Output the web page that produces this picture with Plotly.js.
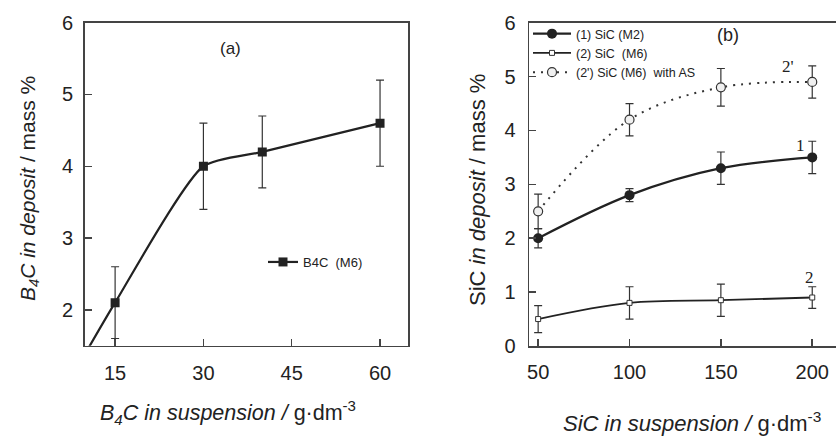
<!DOCTYPE html>
<html>
<head>
<meta charset="utf-8">
<script src="https://cdn.plot.ly/plotly-3.0.1.min.js"></script>
<style>html,body{margin:0;padding:0;background:#fff;}#chart{width:836px;height:438px;}</style>
</head>
<body>
<div id="chart"></div>
<script>
// Panel (a): B4C
const b4cSusp = [10, 15, 30, 40, 60];
const b4cDeposit = [1.4, 2.1, 4.0, 4.2, 4.6];
const b4cErr = [0, 0.5, 0.6, 0.5, 0.6];

// Panel (b): SiC
const sicSusp = [50, 100, 150, 200];
const sicM2 = [2.0, 2.8, 3.3, 3.5];
const sicM2Err = [0.18, 0.12, 0.3, 0.3];
const sicM6 = [0.5, 0.8, 0.85, 0.9];
const sicM6Err = [0.25, 0.3, 0.3, 0.2];
const sicM6AS = [2.5, 4.2, 4.8, 4.9];
const sicM6ASErr = [0.32, 0.3, 0.35, 0.3];

const ticksA = [15, 30, 45, 60];
const ticksAy = [2, 3, 4, 5, 6];
const ticksB = [50, 100, 150, 200];
const ticksBy = [0, 1, 2, 3, 4, 5, 6];

const ink = '#222';
const font = 'Liberation Sans, Arial, sans-serif';

const errStyle = (arr) => ({type: 'data', array: arr, visible: true, color: '#333', thickness: 1.2, width: 4});

const traces = [
  {
    x: b4cSusp, y: b4cDeposit, xaxis: 'x', yaxis: 'y', name: 'B4C  (M6)', legend: 'legend',
    mode: 'lines+markers', line: {color: ink, width: 2.2, shape: 'spline', smoothing: 0.6},
    marker: {symbol: 'square', size: 9, color: ink}, error_y: errStyle(b4cErr)
  },
  {
    x: sicSusp, y: sicM2, xaxis: 'x2', yaxis: 'y2', name: '(1) SiC (M2)', legend: 'legend2',
    mode: 'lines+markers', line: {color: ink, width: 2.2, shape: 'spline', smoothing: 1},
    marker: {symbol: 'circle', size: 10, color: ink}, error_y: errStyle(sicM2Err)
  },
  {
    x: sicSusp, y: sicM6, xaxis: 'x2', yaxis: 'y2', name: '(2) SiC  (M6)', legend: 'legend2',
    mode: 'lines+markers', line: {color: ink, width: 1.8, shape: 'spline', smoothing: 1},
    marker: {symbol: 'square', size: 5, color: '#fff', line: {color: '#333', width: 1}}, error_y: errStyle(sicM6Err)
  },
  {
    x: sicSusp, y: sicM6AS, xaxis: 'x2', yaxis: 'y2', name: "(2') SiC (M6)  with AS", legend: 'legend2',
    mode: 'lines+markers', line: {color: '#333', width: 2, dash: '2px,6px', shape: 'spline', smoothing: 1},
    marker: {symbol: 'circle', size: 9, color: '#f0f0f0', line: {color: '#333', width: 1.2}}, error_y: errStyle(sicM6ASErr)
  }
];

const axisCommon = {
  showgrid: false, zeroline: false, showline: true, linecolor: '#444', linewidth: 1.5,
  ticks: 'inside', ticklen: 7, tickwidth: 1.5, tickcolor: '#444',
  tickfont: {family: font, size: 20, color: ink}, fixedrange: true
};

const layout = {
  width: 836, height: 438,
  margin: {l: 0, r: 0, t: 0, b: 0},
  paper_bgcolor: '#fff', plot_bgcolor: '#fff',
  font: {family: font, color: ink},
  showlegend: true,
  xaxis: Object.assign({}, axisCommon, {domain: [84.5/836, 408/836], range: [9.8, 64.75], tickvals: ticksA, mirror: true, anchor: 'y', ticklabelstandoff: 9}),
  yaxis: Object.assign({}, axisCommon, {domain: [1-345.7/438, 1-22.7/438], range: [1.5, 6], tickvals: ticksAy, mirror: true, anchor: 'x', ticklabelstandoff: 6}),
  xaxis2: Object.assign({}, axisCommon, {domain: [529/836, 1], range: [45, 213], tickvals: ticksB, mirror: true, anchor: 'y2', ticklabelstandoff: 7}),
  yaxis2: Object.assign({}, axisCommon, {domain: [1-346/438, 1-22.7/438], range: [0, 6], tickvals: ticksBy, mirror: false, anchor: 'x2', ticklabelstandoff: 8}),
  legend: {x: 263/836, y: 1-262/438, xanchor: 'left', yanchor: 'middle', bgcolor: 'rgba(0,0,0,0)', borderwidth: 0,
    font: {family: font, size: 13, color: ink}, itemwidth: 30},
  legend2: {x: 528/836, y: 1-19/438, xanchor: 'left', yanchor: 'top', bgcolor: 'rgba(0,0,0,0)', borderwidth: 0,
    font: {family: font, size: 12.5, color: ink}, itemwidth: 38, tracegroupgap: 0},
  annotations: [
    {xref: 'paper', yref: 'paper', x: 230/836, y: 1-49/438, text: '(a)', showarrow: false, font: {family: font, size: 17, color: ink}, xanchor: 'center', yanchor: 'middle'},
    {xref: 'paper', yref: 'paper', x: 728/836, y: 1-35/438, text: '(b)', showarrow: false, font: {family: font, size: 18, color: ink}, xanchor: 'center', yanchor: 'middle'},
    {xref: 'paper', yref: 'paper', x: 29/836, y: 1-189/438, textangle: -90, text: '<i>B<sub>4</sub>C in deposit</i> / mass %', showarrow: false, font: {family: font, size: 21, color: ink}, xanchor: 'center', yanchor: 'middle'},
    {xref: 'paper', yref: 'paper', x: 477/836, y: 1-190/438, textangle: -90, text: 'SiC <i>in deposit</i> / mass %', showarrow: false, font: {family: font, size: 22, color: ink}, xanchor: 'center', yanchor: 'middle'},
    {xref: 'paper', yref: 'paper', x: 228/836, y: 1-412/438, text: '<i>B<sub>4</sub>C in suspension / </i>g·dm<sup>-3</sup>', showarrow: false, font: {family: font, size: 21.5, color: ink}, xanchor: 'center', yanchor: 'middle'},
    {xref: 'paper', yref: 'paper', x: 692/836, y: 1-422/438, text: '<i>SiC in suspension / </i>g·dm<sup>-3</sup>', showarrow: false, font: {family: font, size: 22, color: ink}, xanchor: 'center', yanchor: 'middle'},
    {xref: 'x2', yref: 'y2', x: 193.5, y: 3.72, text: '1', showarrow: false, font: {family: 'Liberation Serif, serif', size: 17, color: ink}},
    {xref: 'x2', yref: 'y2', x: 198.3, y: 1.28, text: '2', showarrow: false, font: {family: 'Liberation Serif, serif', size: 17, color: ink}},
    {xref: 'x2', yref: 'y2', x: 186.8, y: 5.19, text: "2'", showarrow: false, font: {family: 'Liberation Serif, serif', size: 17, color: ink}}
  ]
};

Plotly.newPlot('chart', traces, layout, {staticPlot: true, displayModeBar: false});
</script>
</body>
</html>
